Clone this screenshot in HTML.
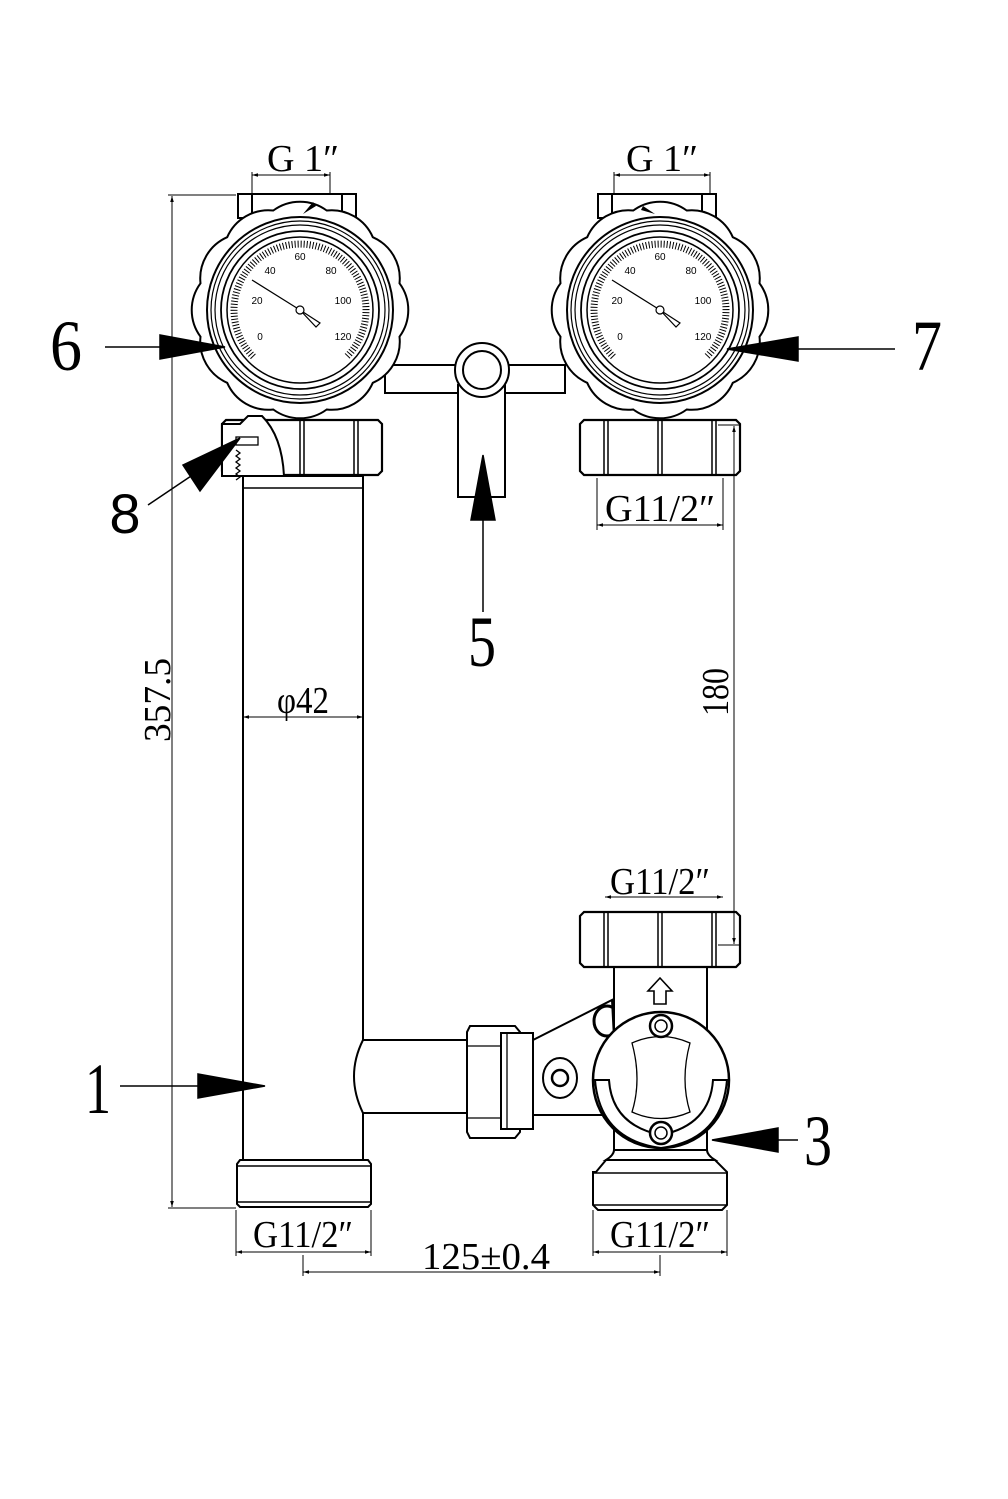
<!DOCTYPE html>
<html><head><meta charset="utf-8"><style>
html,body{margin:0;padding:0;background:#fff;}
svg{display:block}
text{font-family:"Liberation Serif",serif;fill:#000}
</style></head><body>
<svg width="1008" height="1499" viewBox="0 0 1008 1499" xmlns="http://www.w3.org/2000/svg">
<defs>
<marker id="a" viewBox="0 0 10 10" refX="10" refY="5" markerWidth="8" markerHeight="6" orient="auto-start-reverse"><path d="M0,2 L10,5 L0,8z" fill="#000"/></marker>
<g id="gauge">
  <path d="M99.5,26.7 A45,45 0 0 1 72.8,72.8 A45,45 0 0 1 26.7,99.5 A45,45 0 0 1 -26.7,99.5 A45,45 0 0 1 -72.8,72.8 A45,45 0 0 1 -99.5,26.7 A45,45 0 0 1 -99.5,-26.7 A45,45 0 0 1 -72.8,-72.8 A45,45 0 0 1 -26.7,-99.5 A45,45 0 0 1 26.7,-99.5 A45,45 0 0 1 72.8,-72.8 A45,45 0 0 1 99.5,-26.7 A45,45 0 0 1 99.5,26.7z" fill="#fff" stroke="#000" stroke-width="2"/>
  <circle r="93" fill="none" stroke="#000" stroke-width="2"/>
  <circle r="89" fill="none" stroke="#000" stroke-width="1.2"/>
  <circle r="85" fill="none" stroke="#000" stroke-width="1.2"/>
  <circle r="79" fill="none" stroke="#000" stroke-width="1.8"/>
  <circle r="73" fill="#fff" stroke="#000" stroke-width="1.5"/>
  <path d="M-46.7,46.7 A66,66 0 1 1 46.7,46.7" fill="none" stroke="#000" stroke-width="7" stroke-dasharray="1 2"/>
  <g font-size="10" text-anchor="middle">
    <text x="-40" y="30" style="font-family:'Liberation Sans',sans-serif">0</text>
    <text x="-43" y="-6" style="font-family:'Liberation Sans',sans-serif">20</text>
    <text x="-30" y="-36" style="font-family:'Liberation Sans',sans-serif">40</text>
    <text x="0" y="-50" style="font-family:'Liberation Sans',sans-serif">60</text>
    <text x="31" y="-36" style="font-family:'Liberation Sans',sans-serif">80</text>
    <text x="43" y="-6" style="font-family:'Liberation Sans',sans-serif">100</text>
    <text x="43" y="30" style="font-family:'Liberation Sans',sans-serif">120</text>
  </g>
  <path d="M-48,-30 L0,0 L20,13 L16,17 L0,0" fill="none" stroke="#000" stroke-width="1.2"/>
  <circle r="4" fill="#fff" stroke="#000" stroke-width="1.2"/>
</g>
<g id="nut">
  <path d="M0,4 l4,-4 h152 l4,4 v47 l-4,4 h-152 l-4,-4z" fill="#fff" stroke="#000" stroke-width="2.2"/>
  <line x1="24" y1="0" x2="24" y2="55" stroke="#000" stroke-width="1.5"/>
  <line x1="28" y1="0" x2="28" y2="55" stroke="#000" stroke-width="1.5"/>
  <line x1="78" y1="0" x2="78" y2="55" stroke="#000" stroke-width="1.5"/>
  <line x1="82" y1="0" x2="82" y2="55" stroke="#000" stroke-width="1.5"/>
  <line x1="132" y1="0" x2="132" y2="55" stroke="#000" stroke-width="1.5"/>
  <line x1="136" y1="0" x2="136" y2="55" stroke="#000" stroke-width="1.5"/>
</g>
</defs>

<g fill="none" stroke="#000" stroke-width="2">
<rect x="385" y="365" width="180" height="28" fill="#fff"/>
<rect x="458" y="385" width="47" height="112" fill="#fff"/>
<circle cx="482" cy="370" r="27" fill="#fff"/>
<circle cx="482" cy="370" r="19"/>
<rect x="243" y="476" width="120" height="684" fill="#fff"/>
<line x1="243" y1="488" x2="363" y2="488" stroke-width="1.5"/>
<path d="M240,1160 h128 l3,4 v40 l-3,3 h-128 l-3,-3 v-40z" fill="#fff"/>
<line x1="237" y1="1166" x2="371" y2="1166" stroke-width="1.5"/>
<line x1="237" y1="1202" x2="371" y2="1202" stroke-width="1.5"/>
<path d="M363,1040 H472 V1113 H363 Q345,1076 363,1040" fill="#fff"/>
<path d="M470,1026 h45 l5,6 v100 l-5,6 h-45 l-3,-6 v-100z" fill="#fff"/>
<line x1="467" y1="1046" x2="520" y2="1046" stroke-width="1.3"/>
<line x1="467" y1="1118" x2="520" y2="1118" stroke-width="1.3"/>
<rect x="501" y="1033" width="32" height="96" fill="#fff"/>
<line x1="507" y1="1033" x2="507" y2="1129" stroke-width="1.3"/>
<path d="M533,1040 L612,1000 L618,1115 H533z" fill="#fff"/>
<ellipse cx="560" cy="1078" rx="17" ry="20" fill="#fff"/>
<circle cx="560" cy="1078" r="8" stroke-width="2.5"/>
<ellipse cx="607" cy="1021" rx="13" ry="15" stroke-width="3"/>
<rect x="614" y="965" width="93" height="195" fill="#fff"/>
<path d="M606,1160 Q614,1155 614,1150 H707 Q707,1155 715,1160z" fill="#fff"/>
<path d="M596,1172 L606,1160 H715 L727,1172 V1205 L722,1210 H598 L593,1205 V1172z" fill="#fff"/>
<line x1="593" y1="1173" x2="727" y2="1173" stroke-width="1.5"/>
<line x1="593" y1="1205" x2="727" y2="1205" stroke-width="1.5"/>
<path d="M654,1004 v-13 h-6 l12,-13 l12,13 h-6 v13z" fill="#fff" stroke-width="1.6"/>
<circle cx="661" cy="1080" r="68" fill="#fff" stroke-width="2.5"/>
<path d="M632,1043 Q661,1030 690,1043 Q680,1080 690,1112 Q661,1125 632,1112 Q642,1080 632,1043z" stroke-width="1.3"/>
<path d="M595,1080 h14 Q612,1125 661,1135 Q710,1125 713,1080 h14 Q722,1140 661,1148 Q600,1140 595,1080z" fill="#fff" stroke-width="2"/>
<circle cx="661" cy="1026" r="11" fill="#fff" stroke-width="2.5"/>
<circle cx="661" cy="1026" r="6" stroke-width="1.5"/>
<circle cx="661" cy="1133" r="11" fill="#fff" stroke-width="2.5"/>
<circle cx="661" cy="1133" r="6" stroke-width="1.5"/>
</g>
<use href="#nut" x="580" y="912"/>
<use href="#nut" x="580" y="420"/>
<use href="#nut" x="222" y="420"/>
<path d="M222,424 h18 l8,-8 h14 q20,20 22,60 h-62z" fill="#fff" stroke="#000" stroke-width="2"/>
<path d="M236,450 l4,3 -4,3 4,3 -4,3 4,3 -4,3 4,3 -4,3 4,3 -4,3" fill="none" stroke="#000" stroke-width="1.3"/>
<rect x="236" y="437" width="22" height="8" fill="#fff" stroke="#000" stroke-width="1.3"/>
<g fill="#fff" stroke="#000" stroke-width="2">
<rect x="238" y="194" width="118" height="24"/>
<rect x="598" y="194" width="118" height="24"/>
<line x1="252" y1="194" x2="252" y2="218"/><line x1="342" y1="194" x2="342" y2="218"/>
<line x1="612" y1="194" x2="612" y2="218"/><line x1="702" y1="194" x2="702" y2="218"/>
</g>
<use href="#gauge" x="300" y="310"/>
<use href="#gauge" x="660" y="310"/>
<path d="M303,214 l10,-12 l3,4z" fill="#000"/>
<path d="M655,214 l-12,-8 l-2,4z" fill="#000"/>

<g stroke="#000" stroke-width="1" fill="none">
<line x1="252" y1="193" x2="252" y2="172"/><line x1="330" y1="193" x2="330" y2="172"/>
<line x1="252" y1="175" x2="330" y2="175" marker-start="url(#a)" marker-end="url(#a)"/>
<line x1="614" y1="193" x2="614" y2="172"/><line x1="710" y1="193" x2="710" y2="172"/>
<line x1="614" y1="175" x2="710" y2="175" marker-start="url(#a)" marker-end="url(#a)"/>
<line x1="236" y1="195" x2="168" y2="195"/><line x1="236" y1="1208" x2="168" y2="1208"/>
<line x1="172" y1="196" x2="172" y2="1207" marker-start="url(#a)" marker-end="url(#a)"/>
<line x1="243" y1="717" x2="363" y2="717" marker-start="url(#a)" marker-end="url(#a)"/>
<line x1="597" y1="478" x2="597" y2="530"/><line x1="723" y1="478" x2="723" y2="530"/>
<line x1="597" y1="525" x2="723" y2="525" marker-start="url(#a)" marker-end="url(#a)"/>
<line x1="718" y1="425" x2="740" y2="425"/><line x1="718" y1="945" x2="740" y2="945"/>
<line x1="734" y1="426" x2="734" y2="944" marker-start="url(#a)" marker-end="url(#a)"/>
<line x1="605" y1="897" x2="723" y2="897" marker-start="url(#a)" marker-end="url(#a)"/>
<line x1="236" y1="1210" x2="236" y2="1256"/><line x1="371" y1="1210" x2="371" y2="1256"/>
<line x1="236" y1="1252" x2="371" y2="1252" marker-start="url(#a)" marker-end="url(#a)"/>
<line x1="593" y1="1210" x2="593" y2="1256"/><line x1="727" y1="1210" x2="727" y2="1256"/>
<line x1="593" y1="1252" x2="727" y2="1252" marker-start="url(#a)" marker-end="url(#a)"/>
<line x1="303" y1="1255" x2="303" y2="1276"/><line x1="660" y1="1255" x2="660" y2="1276"/>
<line x1="303" y1="1272" x2="660" y2="1272" marker-start="url(#a)" marker-end="url(#a)"/>
</g>
<g font-size="38" text-anchor="middle">
<text x="303" y="171" textLength="72" lengthAdjust="spacingAndGlyphs">G 1″</text>
<text x="662" y="171" textLength="72" lengthAdjust="spacingAndGlyphs">G 1″</text>
<text x="660" y="521" textLength="110" lengthAdjust="spacingAndGlyphs">G11/2″</text>
<text x="660" y="894" textLength="100" lengthAdjust="spacingAndGlyphs">G11/2″</text>
<text x="303" y="1247" textLength="100" lengthAdjust="spacingAndGlyphs">G11/2″</text>
<text x="660" y="1247" textLength="100" lengthAdjust="spacingAndGlyphs">G11/2″</text>
<text x="486" y="1269" textLength="128" lengthAdjust="spacingAndGlyphs">125±0.4</text>
<text x="303" y="713" textLength="52" lengthAdjust="spacingAndGlyphs">φ42</text>
<text transform="translate(170,700) rotate(-90)" textLength="84" lengthAdjust="spacingAndGlyphs">357.5</text>
<text transform="translate(728,692) rotate(-90)" textLength="48" lengthAdjust="spacingAndGlyphs">180</text>
</g>
<g stroke="#000" stroke-width="1.5">
<line x1="105" y1="347" x2="170" y2="347"/>
<path d="M160,335 L225,347 L160,359z" fill="#000"/>
<line x1="895" y1="349" x2="790" y2="349"/>
<path d="M798,337 L727,349 L798,361z" fill="#000"/>
<line x1="148" y1="505" x2="200" y2="470"/>
<path d="M183,465 L240,438 L200,491z" fill="#000"/>
<line x1="483" y1="612" x2="483" y2="515"/>
<path d="M471,520 L483,455 L495,520z" fill="#000"/>
<line x1="120" y1="1086" x2="200" y2="1086"/>
<path d="M198,1074 L265,1086 L198,1098z" fill="#000"/>
<line x1="798" y1="1140" x2="770" y2="1140"/>
<path d="M778,1128 L712,1140 L778,1152z" fill="#000"/>
</g>
<g font-size="72" text-anchor="middle">
<text x="66" y="370" textLength="32" lengthAdjust="spacingAndGlyphs">6</text>
<text x="927" y="370" textLength="30" lengthAdjust="spacingAndGlyphs">7</text>
<text x="482" y="666" textLength="28" lengthAdjust="spacingAndGlyphs">5</text>
<text x="98" y="1113" textLength="26" lengthAdjust="spacingAndGlyphs">1</text>
<text x="818" y="1165" textLength="28" lengthAdjust="spacingAndGlyphs">3</text>
<text x="125" y="533" style="font-family:'Liberation Sans',sans-serif;font-size:56px">8</text>
</g>
</svg>
</body></html>
